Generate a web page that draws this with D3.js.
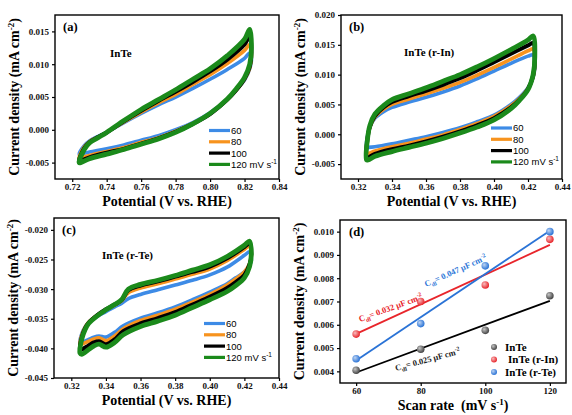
<!DOCTYPE html>
<meta charset="utf-8" />
<style>
  body { margin: 0; background: #fff; }
  .tick text { font-family: "Liberation Serif", serif; font-weight: bold; font-size: 9px; fill: #111; }
  .tick line { stroke: #000; stroke-width: 1.2px; }
  .frame { fill: none; stroke: #000; stroke-width: 1.4px; }
  .title { font-family: "Liberation Serif", serif; font-weight: bold; font-size: 14px; }
  .tag { font-family: "Liberation Serif", serif; font-weight: bold; font-size: 12.5px; }
  .name { font-family: "Liberation Serif", serif; font-weight: bold; font-size: 11px; }
  .leg { font-family: "Liberation Sans", Arial, sans-serif; font-size: 9.5px; }
  .cv { fill: none; stroke-linejoin: round; }
</style>
<body>
  <svg id="chart" width="572" height="415"></svg>
</body>
<script src="https://cdn.jsdelivr.net/npm/d3@7/dist/d3.min.js"></script>
<script>
  // scan rates, order: 60, 80, 100, 120 mV/s
  const rates = ["60", "80", "100", "120"];

  // (a) InTe
  const vUpA = [0.724, 0.727, 0.73, 0.735, 0.74, 0.75, 0.76, 0.77, 0.78, 0.79, 0.80, 0.81, 0.82, 0.823];
  const jUpA = [
    [-0.0037, -0.0024, -0.0017, -0.0010, -0.0004, 0.0011, 0.0025, 0.0038, 0.0050, 0.0063, 0.0077, 0.0092, 0.0109, 0.0117],
    [-0.0043, -0.0026, -0.0018, -0.0011, -0.0004, 0.0012, 0.0027, 0.0041, 0.0054, 0.0069, 0.0084, 0.0101, 0.0121, 0.0130],
    [-0.0047, -0.0028, -0.0019, -0.0011, -0.0004, 0.0013, 0.0029, 0.0044, 0.0058, 0.0073, 0.0089, 0.0107, 0.0130, 0.0142],
    [-0.0050, -0.0030, -0.0020, -0.0012, -0.0004, 0.0014, 0.0031, 0.0046, 0.0061, 0.0077, 0.0093, 0.0113, 0.0138, 0.0153],
  ];
  const vDnA = [0.824, 0.823, 0.82, 0.815, 0.81, 0.80, 0.79, 0.78, 0.77, 0.76, 0.75, 0.74, 0.73, 0.725];
  const jDnA = [
    [0.0110, 0.0093, 0.0076, 0.0061, 0.0047, 0.0026, 0.0011, 0.0000, -0.0009, -0.0016, -0.0023, -0.0029, -0.0034, -0.0037],
    [0.0113, 0.0094, 0.0077, 0.0060, 0.0046, 0.0025, 0.0010, -0.0002, -0.0012, -0.0019, -0.0027, -0.0033, -0.0039, -0.0043],
    [0.0118, 0.0096, 0.0078, 0.0060, 0.0046, 0.0024, 0.0009, -0.0003, -0.0013, -0.0021, -0.0029, -0.0035, -0.0042, -0.0047],
    [0.0125, 0.0100, 0.0080, 0.0062, 0.0047, 0.0025, 0.0009, -0.0004, -0.0014, -0.0022, -0.0030, -0.0037, -0.0044, -0.0050],
  ];

  // (b) InTe (r-In)
  const vUpB = [0.325, 0.3255, 0.327, 0.33, 0.335, 0.34, 0.35, 0.36, 0.37, 0.38, 0.39, 0.40, 0.41, 0.42, 0.423];
  const jUpB = [
    [-0.0022, -0.0004, 0.0012, 0.0027, 0.0038, 0.0045, 0.0054, 0.0062, 0.0071, 0.0081, 0.0093, 0.0106, 0.0119, 0.0131, 0.0133],
    [-0.0032, -0.0008, 0.0012, 0.0029, 0.0042, 0.0050, 0.0059, 0.0068, 0.0077, 0.0087, 0.0099, 0.0112, 0.0126, 0.0140, 0.0143],
    [-0.0040, -0.0010, 0.0013, 0.0031, 0.0045, 0.0054, 0.0064, 0.0073, 0.0083, 0.0094, 0.0107, 0.0121, 0.0135, 0.0149, 0.0153],
    [-0.0043, -0.0010, 0.0015, 0.0034, 0.0048, 0.0058, 0.0068, 0.0078, 0.0089, 0.0100, 0.0113, 0.0127, 0.0142, 0.0158, 0.0165],
  ];
  const vDnB = [0.424, 0.423, 0.42, 0.415, 0.41, 0.40, 0.39, 0.38, 0.37, 0.36, 0.35, 0.34, 0.33, 0.326];
  const jDnB = [
    [0.0118, 0.0095, 0.0078, 0.0062, 0.0050, 0.0032, 0.0021, 0.0011, 0.0003, -0.0004, -0.0010, -0.0016, -0.0021, -0.0022],
    [0.0120, 0.0096, 0.0077, 0.0060, 0.0048, 0.0030, 0.0018, 0.0008, -0.0001, -0.0008, -0.0015, -0.0021, -0.0028, -0.0032],
    [0.0125, 0.0098, 0.0076, 0.0058, 0.0045, 0.0027, 0.0015, 0.0005, -0.0004, -0.0012, -0.0019, -0.0025, -0.0033, -0.0039],
    [0.0130, 0.0100, 0.0075, 0.0057, 0.0043, 0.0024, 0.0012, 0.0002, -0.0007, -0.0015, -0.0022, -0.0029, -0.0037, -0.0043],
  ];

  // (c) InTe (r-Te)
  const vUpC = [0.325, 0.326, 0.328, 0.33, 0.335, 0.34, 0.345, 0.349, 0.353, 0.36, 0.37, 0.38, 0.39, 0.40, 0.41, 0.42, 0.423];
  const jUpC = [
    [-0.0390, -0.0376, -0.0364, -0.0357, -0.0346, -0.0338, -0.0330, -0.0324, -0.0316, -0.0309, -0.0301, -0.0293, -0.0285, -0.0276, -0.0263, -0.0243, -0.0237],
    [-0.0393, -0.0378, -0.0364, -0.0356, -0.0344, -0.0335, -0.0327, -0.0320, -0.0306, -0.0298, -0.0291, -0.0283, -0.0275, -0.0266, -0.0252, -0.0233, -0.0227],
    [-0.0402, -0.0382, -0.0366, -0.0357, -0.0344, -0.0334, -0.0326, -0.0319, -0.0302, -0.0294, -0.0287, -0.0279, -0.0271, -0.0262, -0.0248, -0.0229, -0.0223],
    [-0.0408, -0.0385, -0.0368, -0.0358, -0.0345, -0.0335, -0.0326, -0.0318, -0.0300, -0.0292, -0.0285, -0.0277, -0.0268, -0.0259, -0.0245, -0.0226, -0.0219],
  ];
  const vDnC = [0.424, 0.423, 0.42, 0.415, 0.41, 0.40, 0.39, 0.38, 0.37, 0.36, 0.35, 0.345, 0.34, 0.336, 0.333, 0.33, 0.326];
  const jDnC = [
    [-0.0252, -0.0260, -0.0271, -0.0281, -0.0291, -0.0305, -0.0318, -0.0330, -0.0340, -0.0349, -0.0362, -0.0373, -0.0381, -0.0379, -0.0381, -0.0385, -0.0390],
    [-0.0244, -0.0257, -0.0271, -0.0283, -0.0293, -0.0309, -0.0322, -0.0334, -0.0344, -0.0353, -0.0367, -0.0379, -0.0387, -0.0382, -0.0384, -0.0388, -0.0393],
    [-0.0240, -0.0258, -0.0276, -0.0288, -0.0298, -0.0313, -0.0326, -0.0339, -0.0349, -0.0358, -0.0371, -0.0385, -0.0393, -0.0388, -0.0390, -0.0395, -0.0402],
    [-0.0240, -0.0262, -0.0281, -0.0294, -0.0304, -0.0318, -0.0331, -0.0344, -0.0354, -0.0363, -0.0377, -0.0390, -0.0398, -0.0393, -0.0396, -0.0402, -0.0410],
  ];

  // (d) current density vs scan rate
  const scanRate = [60, 80, 100, 120];
  const jInTe = [0.00405, 0.00495, 0.00576, 0.00725];
  const jInTeRIn = [0.00560, 0.00700, 0.00771, 0.00967];
  const jInTeRTe = [0.00454, 0.00605, 0.00853, 0.01000];
  // fitted lines, values at 60 and 120 mV/s
  const fitInTe = [0.00395, 0.00703];
  const fitInTeRIn = [0.00561, 0.00943];
  const fitInTeRTe = [0.00447, 0.01004];
  const sampleNames = ["InTe", "InTe (r-In)", "InTe (r-Te)"];
  const cdlLabels = ["0.025", "0.032", "0.047"];

  // tick values
  const xTicksA = [0.72, 0.74, 0.76, 0.78, 0.80, 0.82, 0.84];
  const yTicksA = [-0.005, 0, 0.005, 0.010, 0.015];
  const xTicksBC = [0.32, 0.34, 0.36, 0.38, 0.40, 0.42, 0.44];
  const yTicksB = [-0.005, 0, 0.005, 0.010, 0.015, 0.020];
  const yTicksC = [-0.045, -0.040, -0.035, -0.030, -0.025, -0.020];
  const xTicksD = [60, 80, 100, 120];
  const yTicksD = [0.004, 0.005, 0.006, 0.007, 0.008, 0.009, 0.010];

  const cvColors = ["#3d8be6", "#f7931e", "#000000", "#1b8a1b"];
  const cvWidths = [3.6, 3.6, 4, 4.8];
  const dColors = ["#444444", "#e8252b", "#2a73d6"];

  const svg = d3.select("#chart");

  // radial gradients for the ball-like markers in (d)
  const defs = svg.append("defs");
  dColors.forEach((c, i) => {
    const gr = defs.append("radialGradient").attr("id", "ball" + i)
      .attr("cx", "40%").attr("cy", "40%").attr("r", "60%").attr("fx", "35%").attr("fy", "35%");
    gr.append("stop").attr("offset", "0%").attr("stop-color", d3.interpolateRgb(c, "#fff")(0.7));
    gr.append("stop").attr("offset", "100%").attr("stop-color", c);
  });

  function axes(box, x, y, xTicks, yTicks, xFmt, yFmt) {
    svg.append("g")
      .attr("transform", `translate(0,${box.bottom})`)
      .call(d3.axisBottom(x).tickValues(xTicks).tickSize(3).tickPadding(2).tickFormat(xFmt))
      .call((g) => g.select(".domain").remove());
    svg.append("g")
      .attr("transform", `translate(${box.left},0)`)
      .call(d3.axisLeft(y).tickValues(yTicks).tickSize(3).tickPadding(3).tickFormat(yFmt))
      .call((g) => g.select(".domain").remove());
  }

  function frame(box) {
    svg.append("rect").attr("class", "frame")
      .attr("x", box.left).attr("y", box.top)
      .attr("width", box.right - box.left).attr("height", box.bottom - box.top);
  }

  function yTitle(xc, yc) {
    const t = svg.append("text").attr("class", "title")
      .attr("transform", `translate(${xc},${yc}) rotate(-90)`)
      .attr("text-anchor", "middle");
    t.append("tspan").text("Current density (mA cm");
    t.append("tspan").attr("dy", -5).attr("font-size", "9px").text("-2");
    t.append("tspan").attr("dy", 5).text(")");
  }

  function cvPanel(box, xDom, yDom, xTicks, yTicks, vUp, jUp, vDn, jDn, tag, name, namePos, legPos) {
    const x = d3.scaleLinear().domain(xDom).range([box.left, box.right]);
    const y = d3.scaleLinear().domain(yDom).range([box.bottom, box.top]);

    const line = d3.line()
      .x((d) => x(d[0]))
      .y((d) => y(d[1]))
      .curve(d3.curveCatmullRomClosed.alpha(0.5));

    rates.forEach((r, i) => {
      const pts = vUp.map((v, k) => [v, jUp[i][k]])
        .concat(vDn.map((v, k) => [v, jDn[i][k]]));
      svg.append("path").attr("class", "cv")
        .attr("d", line(pts))
        .attr("stroke", cvColors[i])
        .attr("stroke-width", cvWidths[i]);
    });

    axes(box, x, y, xTicks, yTicks, (d) => d.toFixed(2), (d) => d.toFixed(3));
    frame(box);

    svg.append("text").attr("class", "tag").attr("x", box.left + 8).attr("y", box.top + 16).text(tag);
    svg.append("text").attr("class", "name").attr("x", namePos[0]).attr("y", namePos[1]).text(name);

    // legend
    rates.forEach((r, i) => {
      const ly = legPos[1] + i * 11.3;
      svg.append("line")
        .attr("x1", legPos[0]).attr("x2", legPos[0] + 21)
        .attr("y1", ly).attr("y2", ly)
        .attr("stroke", cvColors[i]).attr("stroke-width", 3.2);
      const t = svg.append("text").attr("class", "leg")
        .attr("x", legPos[0] + 22).attr("y", ly + 3.4);
      if (i === 3) {
        t.append("tspan").text(r + " mV s");
        t.append("tspan").attr("dy", -4).attr("font-size", "6.5px").text("-1");
      } else {
        t.text(r);
      }
    });

    svg.append("text").attr("class", "title")
      .attr("x", (box.left + box.right) / 2).attr("y", box.bottom + 27)
      .attr("text-anchor", "middle").text("Potential (V vs. RHE)");
    yTitle(box.left - 36, (box.top + box.bottom) / 2);
  }

  cvPanel({ left: 55, right: 279, top: 15, bottom: 179 }, [0.71, 0.84], [-0.0075, 0.0175],
    xTicksA, yTicksA, vUpA, jUpA, vDnA, jDnA, "(a)", "InTe", [110, 57], [209, 130.5]);

  cvPanel({ left: 341, right: 562, top: 15, bottom: 179 }, [0.31, 0.44], [-0.0075, 0.020],
    xTicksBC, yTicksB, vUpB, jUpB, vDnB, jDnB, "(b)", "InTe (r-In)", [404, 56], [491, 128]);

  cvPanel({ left: 54, right: 279, top: 218, bottom: 378 }, [0.31, 0.44], [-0.045, -0.018],
    xTicksBC, yTicksC, vUpC, jUpC, vDnC, jDnC, "(c)", "InTe (r-Te)", [102, 259], [204, 323.5]);

  // (d) scan rate panel
  const boxD = { left: 340, right: 566, top: 220, bottom: 383 };
  const xD = d3.scaleLinear().domain([55, 125]).range([boxD.left, boxD.right]);
  const yD = d3.scaleLinear().domain([0.0035, 0.0105]).range([boxD.bottom, boxD.top]);

  const series = [jInTe, jInTeRIn, jInTeRTe];
  const fits = [fitInTe, fitInTeRIn, fitInTeRTe];
  const fitLine = d3.line().x((d) => xD(d[0])).y((d) => yD(d[1]));

  fits.forEach((f, i) => {
    svg.append("path")
      .attr("d", fitLine([[scanRate[0], f[0]], [scanRate[3], f[1]]]))
      .attr("stroke", i === 0 ? "#000" : dColors[i])
      .attr("stroke-width", 1.8).attr("fill", "none");
  });

  series.forEach((s, i) => {
    svg.append("g").selectAll("circle")
      .data(s)
      .join("circle")
      .attr("cx", (d, k) => xD(scanRate[k]))
      .attr("cy", (d) => yD(d))
      .attr("r", 3.8)
      .attr("fill", `url(#ball${i})`);
  });

  axes(boxD, xD, yD, xTicksD, yTicksD, (d) => d, (d) => d.toFixed(3));
  frame(boxD);

  svg.append("text").attr("class", "tag").attr("x", boxD.left + 9).attr("y", boxD.top + 16).text("(d)");

  // Cdl labels along the fit lines
  const cdlPos = [[396, 371, -15], [360, 322, -20], [426, 287, -24]];
  const cdlColors = ["#222", "#e8252b", "#2f78d8"];
  cdlLabels.forEach((v, i) => {
    const t = svg.append("text")
      .attr("transform", `translate(${cdlPos[i][0]},${cdlPos[i][1]}) rotate(${cdlPos[i][2]})`)
      .attr("font-family", "Liberation Serif, serif").attr("font-weight", "bold")
      .attr("font-size", "8.5px").attr("fill", cdlColors[i]);
    t.append("tspan").text("C");
    t.append("tspan").attr("dy", 2.5).attr("font-size", "6px").text("dl");
    t.append("tspan").attr("dy", -2.5).text("= " + v + " \u00b5F cm");
    t.append("tspan").attr("dy", -3.5).attr("font-size", "6px").text("-2");
  });

  // legend (d)
  sampleNames.forEach((n, i) => {
    const ly = 347 + i * 12.5;
    svg.append("circle").attr("cx", 494).attr("cy", ly).attr("r", 3).attr("fill", `url(#ball${i})`);
    svg.append("text").attr("class", "name").attr("font-size", "10.5px")
      .attr("x", i === 1 ? 508 : 505).attr("y", ly + 3.6).text(n);
  });

  const xt = svg.append("text").attr("class", "title")
    .attr("x", (boxD.left + boxD.right) / 2).attr("y", boxD.bottom + 27)
    .attr("text-anchor", "middle");
  xt.append("tspan").text("Scan rate \u00a0(mV s");
  xt.append("tspan").attr("dy", -5).attr("font-size", "9px").text("-1");
  xt.append("tspan").attr("dy", 5).text(")");
  yTitle(boxD.left - 36, (boxD.top + boxD.bottom) / 2);
</script>
